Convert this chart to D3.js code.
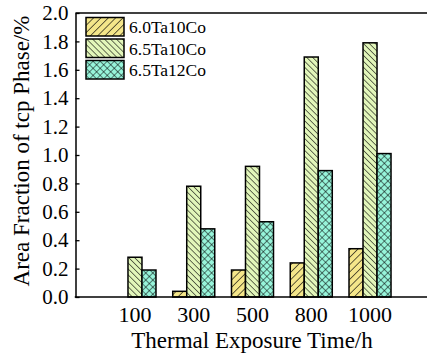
<!DOCTYPE html>
<html>
<head>
<meta charset="utf-8">
<script src="https://cdn.jsdelivr.net/npm/d3@7"></script>
<style>
  body { margin: 0; background: #fff; }
  svg text { font-family: "Liberation Serif", "Times New Roman", Times, serif; fill: #000; }
</style>
</head>
<body>
<div id="chart"></div>
<script>
// data
const times = ["100", "300", "500", "800", "1000"];
const alloys = ["6.0Ta10Co", "6.5Ta10Co", "6.5Ta12Co"];
const ta60co10 = [0, 0.04, 0.19, 0.24, 0.34];
const ta65co10 = [0.28, 0.78, 0.92, 1.69, 1.79];
const ta65co12 = [0.19, 0.48, 0.53, 0.89, 1.01];
const yTicks = [0, 0.2, 0.4, 0.6, 0.8, 1.0, 1.2, 1.4, 1.6, 1.8, 2.0];

const fills = ["#f4e68a", "#e2f6ba", "#97f4da"];
const patterns = ["hatchFwd", "hatchBack", "hatchCross"];

const fullWidth = 427, fullHeight = 358;
const plotLeft = 75.5, plotTop = 13, plotBottom = 297;

const svg = d3.select("#chart").append("svg")
    .attr("width", fullWidth)
    .attr("height", fullHeight);

// hatch patterns
const defs = svg.append("defs");
const fwd = defs.append("pattern").attr("id", "hatchFwd")
    .attr("patternUnits", "userSpaceOnUse").attr("width", 5.2).attr("height", 5.2)
    .attr("patternTransform", "rotate(45)");
fwd.append("rect").attr("width", 5.2).attr("height", 5.2).attr("fill", fills[0]);
fwd.append("line").attr("x1", 0).attr("y1", 0).attr("x2", 0).attr("y2", 5.2)
    .attr("stroke", "#000").attr("stroke-width", 1.2);

const back = defs.append("pattern").attr("id", "hatchBack")
    .attr("patternUnits", "userSpaceOnUse").attr("width", 4.2).attr("height", 4.2)
    .attr("patternTransform", "rotate(-45)");
back.append("rect").attr("width", 4.2).attr("height", 4.2).attr("fill", fills[1]);
back.append("line").attr("x1", 0).attr("y1", 0).attr("x2", 0).attr("y2", 4.2)
    .attr("stroke", "#000").attr("stroke-width", 1.1);

const cross = defs.append("pattern").attr("id", "hatchCross")
    .attr("patternUnits", "userSpaceOnUse").attr("width", 5).attr("height", 5)
    .attr("patternTransform", "rotate(45)");
cross.append("rect").attr("width", 5).attr("height", 5).attr("fill", fills[2]);
cross.append("line").attr("x1", 0).attr("y1", 0).attr("x2", 0).attr("y2", 5)
    .attr("stroke", "#000").attr("stroke-width", 1);
cross.append("line").attr("x1", 0).attr("y1", 0).attr("x2", 5).attr("y2", 0)
    .attr("stroke", "#000").attr("stroke-width", 1);

const series = [ta60co10, ta65co10, ta65co12];

const x0 = d3.scaleBand().domain(times).range([105.6, 399.4])
    .paddingInner(0.285).paddingOuter(0.1425);
const x1 = d3.scaleBand().domain(alloys).range([0, x0.bandwidth()]);
const y = d3.scaleLinear().domain([0, 2]).range([plotBottom, plotTop]);

// top frame line
svg.append("line")
    .attr("x1", plotLeft).attr("x2", fullWidth)
    .attr("y1", plotTop).attr("y2", plotTop)
    .attr("stroke", "#000").attr("stroke-width", 1.3);

// bars
const groups = svg.selectAll(".grp")
    .data(times)
    .enter().append("g")
    .attr("class", "grp")
    .attr("transform", d => `translate(${x0(d)},0)`);

groups.selectAll("rect")
    .data((t, i) => alloys.map((a, k) => ({ alloy: a, k: k, v: series[k][i] })).filter(d => d.v > 0))
    .enter().append("rect")
    .attr("x", d => x1(d.alloy))
    .attr("y", d => y(d.v))
    .attr("width", x1.bandwidth())
    .attr("height", d => y(0) - y(d.v))
    .attr("fill", d => `url(#${patterns[d.k]})`)
    .attr("stroke", "#000")
    .attr("stroke-width", 1.5);

// y axis
const gY = svg.append("g")
    .attr("transform", `translate(${plotLeft},0)`)
    .call(d3.axisLeft(y).tickValues(yTicks).tickFormat(d3.format(".1f"))
        .tickSizeInner(-4).tickSizeOuter(0).tickPadding(7));
gY.attr("font-family", null).attr("font-size", null);
gY.select(".domain").attr("stroke-width", 1.5);
gY.selectAll(".tick line").attr("stroke-width", 1.3);
gY.selectAll("text").style("font-size", "21px");

// x axis
const gX = svg.append("g")
    .attr("transform", `translate(0,${plotBottom})`);
gX.append("line").attr("x1", plotLeft - 0.75).attr("x2", fullWidth)
    .attr("stroke", "#000").attr("stroke-width", 1.5);
gX.selectAll("text")
    .data(times)
    .enter().append("text")
    .attr("x", d => x0(d) + x0.bandwidth() / 2)
    .attr("y", 25)
    .attr("text-anchor", "middle")
    .style("font-size", "22px")
    .text(d => d);

// axis titles
svg.append("text")
    .attr("x", 252).attr("y", 348)
    .attr("text-anchor", "middle")
    .style("font-size", "23px")
    .text("Thermal Exposure Time/h");

svg.append("text")
    .attr("transform", "translate(29,151) rotate(-90)")
    .attr("text-anchor", "middle")
    .style("font-size", "23px")
    .text("Area Fraction of tcp Phase/%");

// legend
const legend = svg.selectAll(".leg")
    .data(alloys)
    .enter().append("g")
    .attr("class", "leg")
    .attr("transform", (d, i) => `translate(86,${17.5 + i * 21.5})`);
legend.append("rect")
    .attr("width", 38).attr("height", 18.5)
    .attr("fill", (d, i) => `url(#${patterns[i]})`)
    .attr("stroke", "#000").attr("stroke-width", 1.5);
legend.append("text")
    .attr("x", 43).attr("y", 9.5).attr("dy", "0.35em")
    .style("font-size", "17.5px")
    .text(d => d);
</script>
</body>
</html>
